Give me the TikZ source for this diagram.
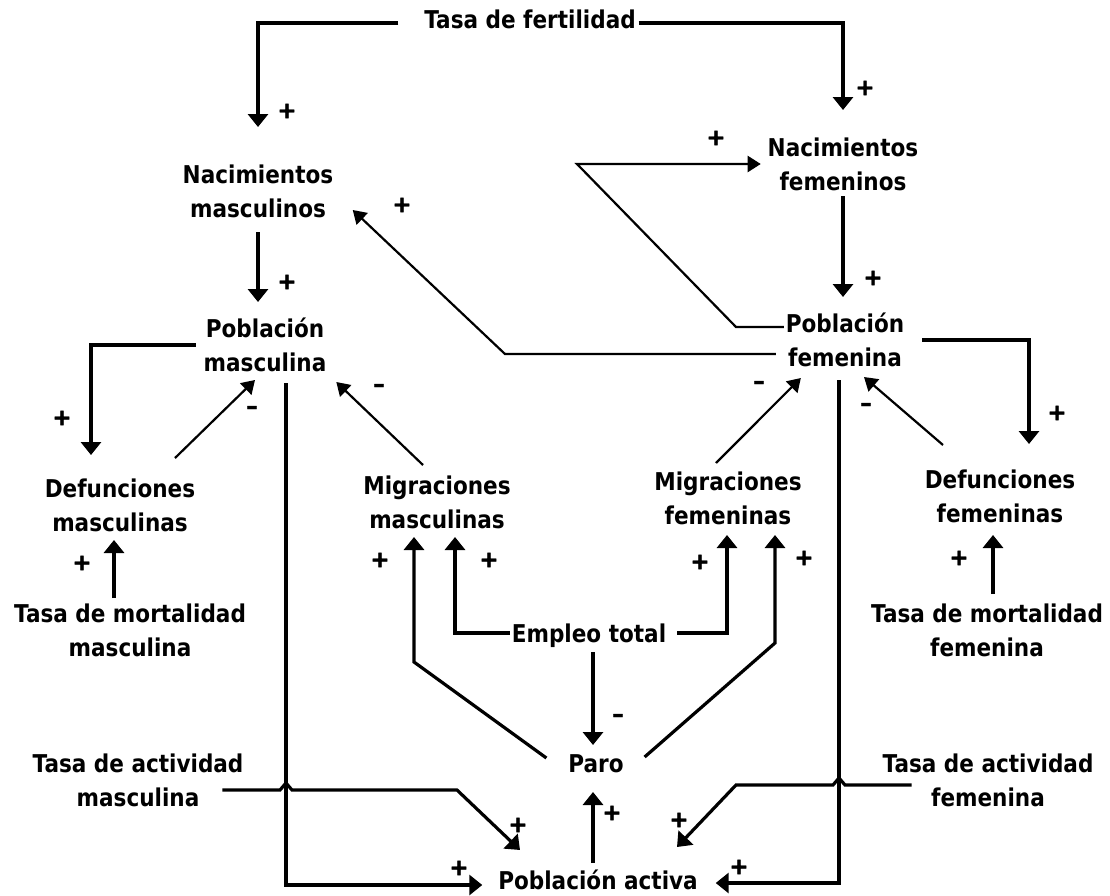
\documentclass[tikz,border=0pt]{standalone}
\usepackage{fontspec}
\setmainfont{DejaVu Sans}
\newfontfamily\lblfont{DejaVu Sans Bold}[FakeStretch=0.88]
\newfontfamily\sgnfont{DejaVu Sans Bold}[FakeBold=1.5]
\usetikzlibrary{arrows.meta}
% fixed line height so every text line has the same box
\newcommand\lstrut{\rule[-6pt]{0pt}{30pt}}
\begin{document}
\begin{tikzpicture}[x=1pt,y=-1pt,
  lbl/.style={inner sep=0pt, outer sep=0pt, align=center,
              font=\lblfont\fontsize{24.5}{34}\selectfont},
  sgn/.style={inner sep=0pt, outer sep=0pt, font=\sgnfont\fontsize{23}{23}\selectfont},
  conn/.style={line width=3.2pt, -{Triangle[width=20pt,length=13pt]}},
  diag/.style={line width=2.2pt, -{Triangle[width=16pt,length=13pt]}},
]
\useasboundingbox[fill=white] (0,0) rectangle (1110,895);

% ---- variables
\node[lbl] (tf)  at (530,19)  {\lstrut Tasa de fertilidad};
\node[lbl] (nm)  at (258,191) {\lstrut Nacimientos\\\lstrut masculinos};
\node[lbl] (nf)  at (843,164) {\lstrut Nacimientos\\\lstrut femeninos};
\node[lbl] (pm)  at (265,345) {\lstrut Población\\\lstrut masculina};
\node[lbl] (pf)  at (845,340) {\lstrut Población\\\lstrut femenina};
\node[lbl] (dm)  at (120,505) {\lstrut Defunciones\\\lstrut masculinas};
\node[lbl] (mm)  at (437,502) {\lstrut Migraciones\\\lstrut masculinas};
\node[lbl] (mf)  at (728,498) {\lstrut Migraciones\\\lstrut femeninas};
\node[lbl] (df)  at (1000,496) {\lstrut Defunciones\\\lstrut femeninas};
\node[lbl] (tmm) at (130,630) {\lstrut Tasa de mortalidad\\\lstrut masculina};
\node[lbl] (et)  at (589,633) {\lstrut Empleo total};
\node[lbl] (tmf) at (987,630) {\lstrut Tasa de mortalidad\\\lstrut femenina};
\node[lbl] (tam) at (138,780) {\lstrut Tasa de actividad\\\lstrut masculina};
\node[lbl] (paro) at (596,763) {\lstrut Paro};
\node[lbl] (taf) at (988,780) {\lstrut Tasa de actividad\\\lstrut femenina};
\node[lbl] (pa)  at (598,880) {\lstrut Población activa};

% ---- births
\draw[conn, shorten >=32pt] ([xshift=-26pt,yshift=-4pt]tf.west) -| (nm.north);
\draw[conn, shorten >=22pt] ([xshift=3pt,yshift=-4pt]tf.east) -| (nf.north);
\draw[conn, shorten <=9pt, shorten >=11pt] (nm.south) -- (nm.south |- pm.north);
\draw[conn, shorten >=11pt] (nf.south) -- (nf.south |- pf.north);
\draw[diag, shorten >=7pt] ([xshift=-2pt,yshift=13pt]pf.west) -- (736,327) -- (577,164) -- (nf.west);
\draw[diag] ([xshift=-10pt,yshift=-14pt]pf.west) -- (505,354) -- ([xshift=19.5pt,yshift=-19pt]nm.east);

% ---- deaths
\draw[conn] ([xshift=-8pt]pm.west) -| ([xshift=-29pt,yshift=18pt]dm.north);
\draw[diag] ([xshift=55pt,yshift=15pt]dm.north) -- ([xshift=-10pt,yshift=-3pt]pm.south);
\draw[conn] ([xshift=18pt]pf.east) -| ([xshift=29pt,yshift=20pt]df.north);
\draw[diag] ([xshift=-57pt,yshift=19pt]df.north) -- ([xshift=19pt,yshift=-5pt]pf.south);
\draw[conn] ([xshift=-16pt]tmm.north) -- ([xshift=-6pt,yshift=-3pt]dm.south);
\draw[conn] ([xshift=6pt,yshift=4pt]tmf.north) -- ([xshift=-7pt,yshift=-7pt]df.south);

% ---- migrations
\draw[diag] ([xshift=-14pt,yshift=5pt]mm.north) -- ([xshift=10pt,yshift=-5pt]pm.south east);
\draw[diag] ([xshift=-12pt,yshift=3pt]mf.north) -- ([xshift=15pt,yshift=-6pt]pf.south west);
\draw[conn] ([xshift=-2pt]et.west) -| ([xshift=18pt,yshift=-3pt]mm.south);
\draw[conn] ([xshift=11pt]et.east) -| ([xshift=-1pt,yshift=-5pt]mf.south);
\draw[conn] ([xshift=4pt,yshift=-4pt]et.south) -- ([xshift=-3pt,yshift=3pt]paro.north);
\draw[conn] ([xshift=-22pt,yshift=5pt]paro.west) -- (414,662) -- ([xshift=-23pt,yshift=-3pt]mm.south);
\draw[conn] ([xshift=21pt,yshift=6pt]paro.east) -- (775,643) -- ([xshift=47pt,yshift=-5pt]mf.south);

% ---- active population
\draw[conn] ([xshift=21pt,yshift=-6pt]pm.south) |- ([xshift=-16pt,yshift=-5pt]pa.west);
\draw[conn] ([xshift=-6pt,yshift=-8pt]pf.south) |- ([xshift=18pt,yshift=-3pt]pa.east);
\draw[conn] ([xshift=-21pt,yshift=-10pt]tam.east) -- (280,790) -- (286,783) -- (292,790)
   -- (457,790) -- ([xshift=-78pt,yshift=15pt]pa.north);
\draw[conn] ([xshift=29pt,yshift=-5pt]taf.west) -- (845,785) -- (839,778) -- (833,785)
   -- (736,785) -- ([xshift=79pt,yshift=18pt]pa.north);
\draw[conn] ([xshift=-5pt,yshift=2pt]pa.north) -- ([xshift=-3pt,yshift=-14pt]paro.south);

% ---- polarities
\node[sgn] (s1)  at (287,111) {+};
\node[sgn] (s2)  at (865,88)  {+};
\node[sgn] (s3)  at (716,138) {+};
\node[sgn] (s4)  at (402,205) {+};
\node[sgn] (s5)  at (287,282) {+};
\node[sgn] (s6)  at (873,278) {+};
\node[sgn] (s7)  at (62,418)  {+};
\node[sgn] (s8)  at (252,410) {–};
\node[sgn] (s9)  at (379,388) {–};
\node[sgn] (s10) at (759,385) {–};
\node[sgn] (s11) at (866,407) {–};
\node[sgn] (s12) at (1057,413) {+};
\node[sgn] (s13) at (82,563)  {+};
\node[sgn] (s14) at (380,560) {+};
\node[sgn] (s15) at (489,560) {+};
\node[sgn] (s16) at (700,562) {+};
\node[sgn] (s17) at (804,558) {+};
\node[sgn] (s18) at (959,558) {+};
\node[sgn] (s19) at (618,718) {–};
\node[sgn] (s20) at (612,813) {+};
\node[sgn] (s21) at (518,825) {+};
\node[sgn] (s22) at (679,820) {+};
\node[sgn] (s23) at (459,868) {+};
\node[sgn] (s24) at (739,867) {+};
\end{tikzpicture}
\end{document}
